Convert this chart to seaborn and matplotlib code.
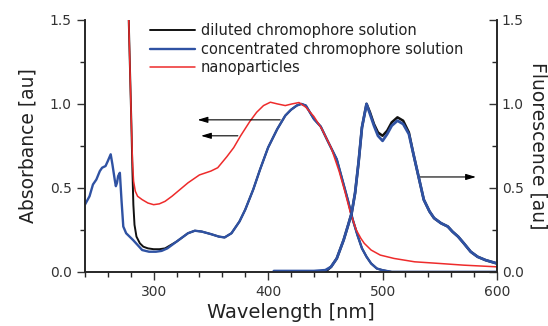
import matplotlib
matplotlib.use("Agg")
import matplotlib.pyplot as plt
import seaborn as sns
import pandas as pd
from matplotlib.ticker import MultipleLocator, FormatStrFormatter

# absorbance, diluted solution (black)
dil_abs_wl = [277.5, 279, 280.5, 281.5, 282.3, 283.3, 285, 288, 291, 295, 300, 305, 310, 320, 330, 336, 342,
              350, 357, 362, 368, 375, 380, 387, 393, 400, 408, 415, 420, 425, 429, 433, 440,
              446, 452, 460, 466, 470, 474, 478, 482, 486, 490, 495, 500, 508, 600]
dil_abs = [1.7, 1.3, 0.9, 0.6, 0.4, 0.28, 0.21, 0.17, 0.15, 0.14, 0.135, 0.135, 0.14, 0.18, 0.23, 0.245, 0.24,
           0.225, 0.21, 0.205, 0.23, 0.30, 0.37, 0.49, 0.61, 0.74, 0.85, 0.93, 0.965, 0.99, 1.0, 0.99, 0.91,
           0.865, 0.78, 0.67, 0.52, 0.42, 0.31, 0.22, 0.14, 0.09, 0.05, 0.02, 0.01, 0.0, 0.0]

# absorbance, concentrated solution (blue)
con_abs_wl = [240, 244, 247, 250, 253, 255, 258, 260, 262.5, 264, 266, 267, 268, 269, 270.5, 272,
              273.5, 276, 279, 282, 286, 290, 296, 302, 307, 312, 320, 330, 336, 342,
              350, 357, 362, 368, 375, 380, 387, 393, 400, 408, 415, 420, 425, 429, 433, 440,
              446, 452, 460, 466, 470, 474, 478, 482, 486, 490, 495, 500, 508, 600]
con_abs = [0.40, 0.45, 0.52, 0.55, 0.60, 0.62, 0.63, 0.66, 0.70, 0.64, 0.55, 0.51, 0.53, 0.57, 0.59, 0.42,
           0.27, 0.23, 0.21, 0.19, 0.16, 0.13, 0.12, 0.12, 0.125, 0.14, 0.18, 0.23, 0.245, 0.24,
           0.225, 0.21, 0.205, 0.23, 0.30, 0.37, 0.49, 0.61, 0.74, 0.85, 0.93, 0.965, 0.99, 1.0, 0.99, 0.91,
           0.865, 0.78, 0.67, 0.52, 0.42, 0.31, 0.22, 0.14, 0.09, 0.05, 0.02, 0.01, 0.0, 0.0]

# absorbance, nanoparticles (red)
np_abs_wl = [277.5, 279, 280.5, 281.5, 282.5, 284, 286, 290, 295, 300, 305, 310, 316, 323, 330, 340, 350,
             356, 364, 370, 376, 384, 390, 396, 402, 408, 415, 421, 427, 433, 440, 447, 455,
             462, 467, 472, 477, 481, 484, 490, 498, 510, 528, 550, 571, 600]
np_abs = [1.7, 1.3, 0.9, 0.66, 0.54, 0.48, 0.45, 0.43, 0.41, 0.40, 0.405, 0.42, 0.45, 0.49, 0.53, 0.577, 0.60,
          0.62, 0.686, 0.74, 0.81, 0.895, 0.95, 0.99, 1.01, 1.0, 0.99, 1.0, 1.008, 0.98, 0.925, 0.85, 0.74,
          0.60, 0.48, 0.35, 0.25, 0.20, 0.17, 0.13, 0.10, 0.08, 0.06, 0.05, 0.04, 0.03]

# fluorescence, diluted (black)
dil_fl_wl = [450, 455, 460, 466, 470, 473, 476, 479, 482, 486, 489, 492.5, 496, 500, 504, 508, 513,
             518, 523, 527, 531, 536, 541, 545, 551, 557, 561, 566, 571, 577, 583, 590, 600]
dil_fl = [0.0, 0.03, 0.08, 0.19, 0.28, 0.35, 0.47, 0.65, 0.86, 1.0, 0.95, 0.88, 0.83, 0.81, 0.84, 0.89, 0.92,
          0.90, 0.83, 0.70, 0.58, 0.43, 0.36, 0.32, 0.29, 0.27, 0.24, 0.21, 0.17, 0.12, 0.09, 0.07, 0.05]

# fluorescence, concentrated (blue)
con_fl_wl = [405, 420, 440, 450, 455, 460, 466, 470, 473, 476, 479, 482, 486, 489, 492.5, 496, 500, 504, 508, 513,
             518, 523, 527, 531, 536, 541, 545, 551, 557, 561, 566, 571, 577, 583, 590, 600]
con_fl = [0.005, 0.005, 0.005, 0.01, 0.03, 0.08, 0.19, 0.28, 0.35, 0.47, 0.65, 0.86, 1.0, 0.94, 0.87, 0.81, 0.78, 0.82, 0.87, 0.90,
          0.88, 0.82, 0.70, 0.58, 0.43, 0.36, 0.32, 0.29, 0.27, 0.24, 0.21, 0.17, 0.12, 0.09, 0.07, 0.05]

labels = ["diluted chromophore solution", "concentrated chromophore solution", "nanoparticles"]
colors = ["#111111", "#2f52a3", "#ee2b2b"]

sns.set_theme(style="ticks")
plt.rcParams["font.family"] = ["DejaVu Sans"]
plt.rcParams.update({
    "xtick.direction": "out", "ytick.direction": "out",
    "xtick.major.size": 6, "xtick.minor.size": 3.5,
    "ytick.major.size": 6, "ytick.minor.size": 3.5,
    "xtick.major.width": 1.0, "ytick.major.width": 1.0,
    "axes.linewidth": 1.2,
})

fig = plt.figure(figsize=(5.48, 3.26), dpi=100)
ax = fig.add_axes([0.155, 0.166, 0.752, 0.773])
ax2 = ax.twinx()

df_dil = pd.DataFrame({"wl": dil_abs_wl, "val": dil_abs})
df_con = pd.DataFrame({"wl": con_abs_wl, "val": con_abs})
df_np = pd.DataFrame({"wl": np_abs_wl, "val": np_abs})
df_dfl = pd.DataFrame({"wl": dil_fl_wl, "val": dil_fl})
df_cfl = pd.DataFrame({"wl": con_fl_wl, "val": con_fl})

sns.lineplot(data=df_dil, x="wl", y="val", ax=ax, color=colors[0], lw=1.4, sort=False, label=labels[0])
sns.lineplot(data=df_con, x="wl", y="val", ax=ax, color=colors[1], lw=1.7, sort=False, label=labels[1])
sns.lineplot(data=df_np, x="wl", y="val", ax=ax, color=colors[2], lw=1.1, sort=False, label=labels[2])
sns.lineplot(data=df_dfl, x="wl", y="val", ax=ax2, color=colors[0], lw=1.8, sort=False)
sns.lineplot(data=df_cfl, x="wl", y="val", ax=ax2, color=colors[1], lw=2.0, sort=False)

for a in (ax, ax2):
    a.set_xlim(240, 600)
    a.set_ylim(0, 1.5)
    a.yaxis.set_major_locator(MultipleLocator(0.5))
    a.yaxis.set_minor_locator(MultipleLocator(0.25))
    a.yaxis.set_major_formatter(FormatStrFormatter("%.1f"))
    a.spines["top"].set_visible(False)
    a.tick_params(labelsize=10, colors="#333333", labelcolor="#333333")

ax.xaxis.set_major_locator(MultipleLocator(100))
ax.xaxis.set_minor_locator(MultipleLocator(20))
ax2.tick_params(axis="y", which="both", direction="in")

ax.set_xlabel("Wavelength [nm]", fontsize=14, color="#222222", labelpad=3)
ax.set_ylabel("Absorbance [au]", fontsize=13.5, color="#222222", labelpad=9)
ax2.set_ylabel("Fluorescence [au]", fontsize=13.5, color="#222222", rotation=-90, labelpad=17)

leg = ax.legend(loc="upper left", bbox_to_anchor=(0.14, 1.015), frameon=False, fontsize=10.5,
                handlelength=3.1, handletextpad=0.4, labelspacing=0.24, borderpad=0)
for t in leg.get_texts():
    t.set_color("#222222")

# arrows pointing to the matching axis
arrow_tails = [(413, 0.905), (376, 0.81), (529, 0.565)]
arrow_heads = [(336, 0.905), (339, 0.81), (584, 0.565)]
for tail, head in zip(arrow_tails, arrow_heads):
    ax.annotate("", xy=head, xytext=tail,
                arrowprops=dict(arrowstyle="-|>,head_length=0.5,head_width=0.15", color="black", lw=0.8))

plt.savefig("out.png", dpi=100)
